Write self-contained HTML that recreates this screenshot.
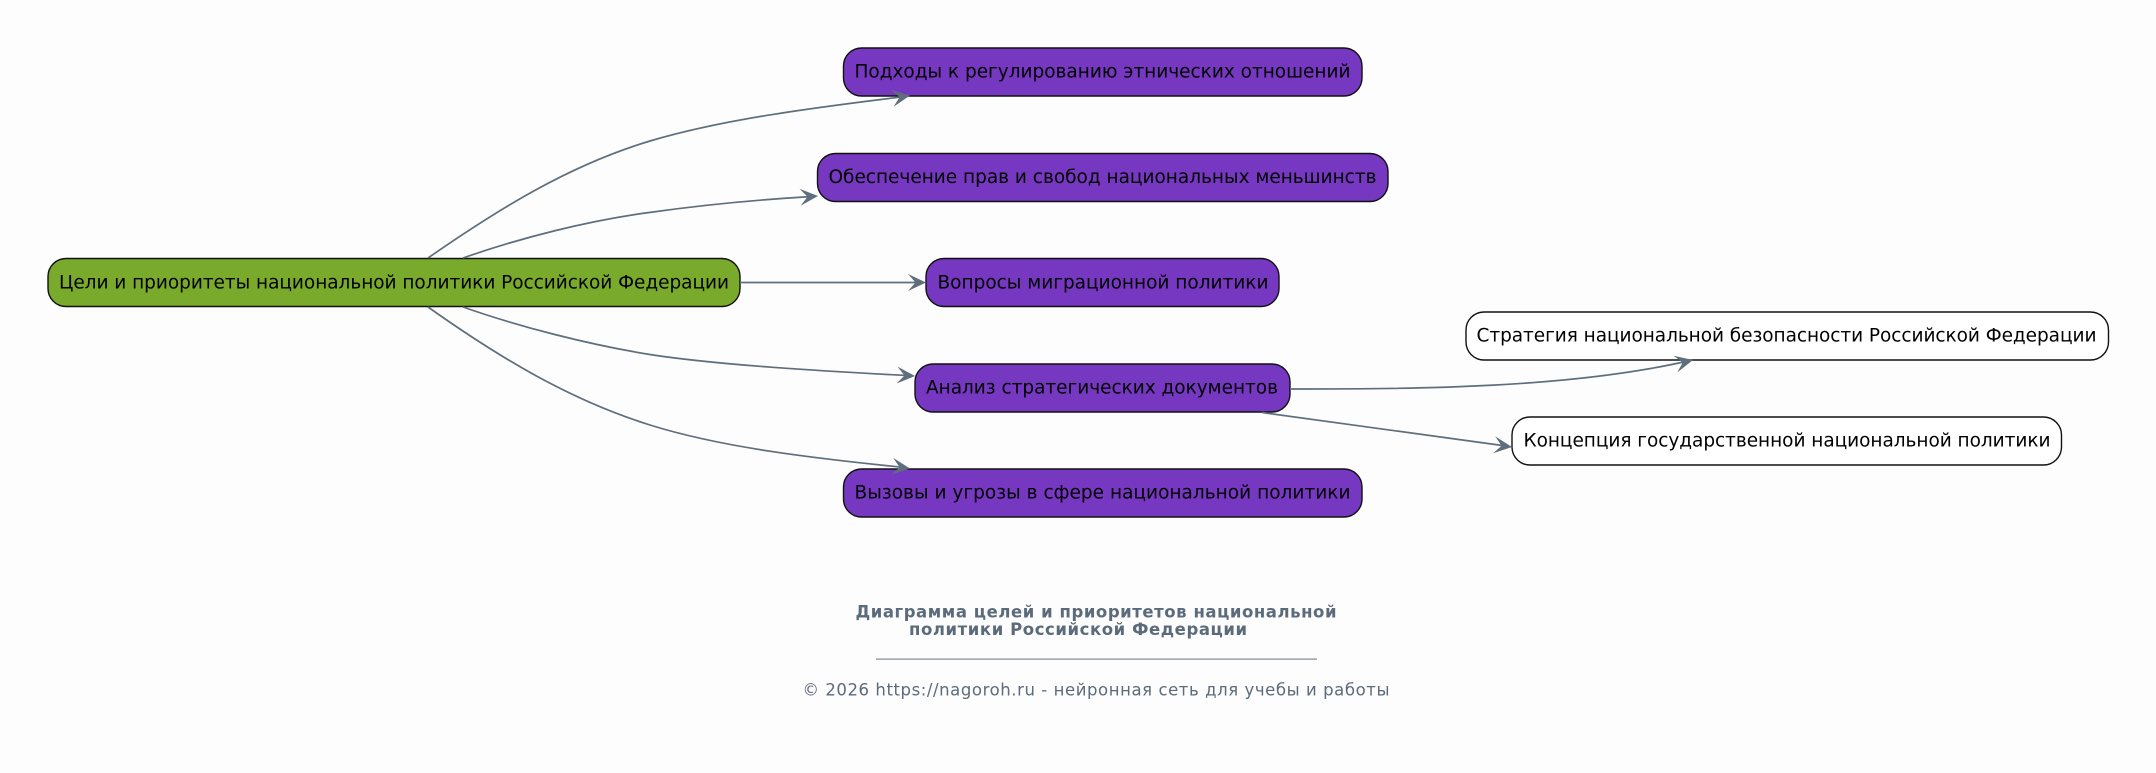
<!DOCTYPE html>
<html><head><meta charset="utf-8"><style>
html,body{margin:0;padding:0;background:#fdfdfd;width:2156px;height:773px;overflow:hidden}
svg{display:block}
text{font-family:"DejaVu Sans",sans-serif;font-size:18.5px;fill:#000}
.b{stroke:#111;stroke-width:1.4}
.e{fill:none;stroke:#5f6e7c;stroke-width:1.7}
.a{fill:#5f6e7c}
.f{fill:#5b6b7b;text-anchor:middle}
</style></head><body>
<svg width="2156" height="773" viewBox="0 0 2156 773" xmlns="http://www.w3.org/2000/svg">
<rect width="2156" height="773" fill="#fdfdfd"/>
<rect class="b" x="48" y="258.5" width="692" height="48" rx="18" fill="#7aaa2b"/>
<rect class="b" x="843.5" y="48" width="518.5" height="48" rx="18" fill="#7637c1"/>
<rect class="b" x="817.5" y="153.500" width="570.5" height="48" rx="18" fill="#7637c1"/>
<rect class="b" x="926" y="258.5" width="353" height="48" rx="18" fill="#7637c1"/>
<rect class="b" x="915" y="364" width="375" height="48" rx="18" fill="#7637c1"/>
<rect class="b" x="843.5" y="469" width="518.5" height="48" rx="18" fill="#7637c1"/>
<rect class="b" x="1466" y="312" width="642.500" height="48" rx="18" fill="#fff"/>
<rect class="b" x="1512" y="417" width="549.500" height="48" rx="18" fill="#fff"/>
<path class="e" d="M428 258C500 208 570 165 650 141C720 120 810 108 905 96.500"/>
<path class="a" transform="translate(910 95.500) rotate(-9)" d="M0 0L-18-8.500L-10.500 0L-18 8.500Z"/>
<path class="e" d="M463 258C520 238 590 220 653 212C710 204 770 199 812 196.500"/>
<path class="a" transform="translate(818 196) rotate(-4)" d="M0 0L-18-8.500L-10.500 0L-18 8.500Z"/>
<path class="e" d="M740 282.500H920"/>
<path class="a" transform="translate(926 282.500)" d="M0 0L-18-8.500L-10.500 0L-18 8.500Z"/>
<path class="e" d="M463 307C520 327 590 345 653 355C720 365 820 371 909 375.600"/>
<path class="a" transform="translate(915 376) rotate(3)" d="M0 0L-18-8.500L-10.500 0L-18 8.500Z"/>
<path class="e" d="M428 307C500 358 570 400 650 425C720 447 810 458 905 467.500"/>
<path class="a" transform="translate(910 468.500) rotate(7)" d="M0 0L-18-8.500L-10.500 0L-18 8.500Z"/>
<path class="e" d="M1290 389C1420 389 1570 388 1688 361"/>
<path class="a" transform="translate(1693 360) rotate(-13)" d="M0 0L-18-8.500L-10.500 0L-18 8.500Z"/>
<path class="e" d="M1262 412.500L1506 446"/>
<path class="a" transform="translate(1512 447) rotate(7)" d="M0 0L-18-8.500L-10.500 0L-18 8.500Z"/>
<text x="59" y="288.500" textLength="670" lengthAdjust="spacing">Цели и приоритеты национальной политики Российской Федерации</text>
<text x="854.500" y="77.500" textLength="496" lengthAdjust="spacing">Подходы к регулированию этнических отношений</text>
<text x="828.500" y="183" textLength="548" lengthAdjust="spacing">Обеспечение прав и свобод национальных меньшинств</text>
<text x="937.500" y="288.500" textLength="331" lengthAdjust="spacing">Вопросы миграционной политики</text>
<text x="926" y="393.500" textLength="352" lengthAdjust="spacing">Анализ стратегических документов</text>
<text x="854.500" y="498.500" textLength="496" lengthAdjust="spacing">Вызовы и угрозы в сфере национальной политики</text>
<text x="1476.500" y="341.500" textLength="620" lengthAdjust="spacing">Стратегия национальной безопасности Российской Федерации</text>
<text x="1523.500" y="446.500" textLength="527" lengthAdjust="spacing">Концепция государственной национальной политики</text>
<text class="f" x="1096" y="617.500" style="font-size:16.5px;font-weight:700" textLength="481" lengthAdjust="spacing">Диаграмма целей и приоритетов национальной</text>
<text class="f" x="1078" y="635" style="font-size:16.5px;font-weight:700" textLength="338" lengthAdjust="spacing">политики Российской Федерации</text>
<rect x="876" y="658.500" width="441" height="1.200" fill="#7d8a97"/>
<text class="f" x="1096" y="695.500" style="font-size:16.5px" textLength="587" lengthAdjust="spacing">© 2026 https://nagoroh.ru - нейронная сеть для учебы и работы</text>
</svg>
</body></html>
